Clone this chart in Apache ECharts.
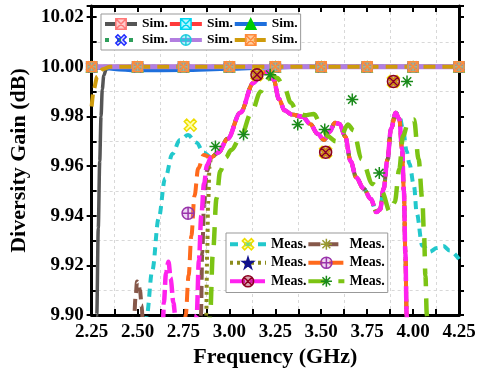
<!DOCTYPE html>
<html>
<head>
<meta charset="utf-8">
<script src="https://cdn.jsdelivr.net/npm/echarts@6/dist/echarts.min.js"></script>
<style>
  html, body { margin: 0; padding: 0; background: #fff; }
  #chart { width: 480px; height: 373px; }
</style>
</head>
<body>
<div id="chart"></div>
<script>
// ---- data ----
const simMarkX = [2.25, 2.5, 2.75, 3.0, 3.25, 3.5, 3.75, 4.0, 4.25];
const simMarkY = [10.0, 10.0, 10.0, 10.0, 10.0, 10.0, 10.0, 10.0, 10.0];

const simGray = [[2.27, 9.87], [2.278, 9.90], [2.286, 9.935], [2.294, 9.962], [2.301, 9.98], [2.308, 9.991],
  [2.316, 9.9965], [2.33, 9.9992], [2.36, 10.0], [4.25, 10.0]];
const simFlat = [[2.25, 10.0], [4.25, 10.0]];
const simBlue = [[2.25, 10.0], [2.32, 9.9995], [2.4, 9.9989], [2.5, 9.9986], [2.75, 9.9987], [3.0, 9.9992],
  [3.2, 9.9997], [3.4, 10.0], [4.25, 10.0]];
const simGold = [[2.25, 9.984], [2.262, 9.991], [2.28, 9.996], [2.31, 9.999], [2.35, 10.0], [4.25, 10.0]];

// measured curves: shared middle part + individual heads/tails
const mainCurve = [[2.9, 9.9635], [2.94, 9.9655], [2.99, 9.971], [3.06, 9.9816], [3.13, 9.9935], [3.18, 9.9977],
  [3.21, 9.998], [3.24, 9.995], [3.27, 9.987], [3.3, 9.9825], [3.34, 9.9808], [3.4, 9.9798], [3.44, 9.977],
  [3.48, 9.973], [3.515, 9.9705], [3.545, 9.9738], [3.575, 9.9775], [3.6, 9.977], [3.63, 9.972], [3.66, 9.962],
  [3.69, 9.9555], [3.73, 9.951], [3.77, 9.9468], [3.8, 9.9415], [3.82, 9.9425], [3.84, 9.951], [3.86, 9.9625],
  [3.88, 9.975], [3.905, 9.9815]];
const mainDrop = [[3.925, 9.979], [3.94, 9.967], [3.95, 9.95], [3.958, 9.925], [3.965, 9.90], [3.97, 9.88]];

const cyanHead = [[2.54, 9.885], [2.55, 9.90], [2.58, 9.918], [2.615, 9.939], [2.65, 9.955], [2.69, 9.965],
  [2.73, 9.9705], [2.775, 9.9725], [2.82, 9.9695], [2.86, 9.9655]];
const cyanTail = [[3.925, 9.9805], [3.945, 9.975], [3.965, 9.966], [3.98, 9.961], [4.005, 9.952], [4.02, 9.941],
  [4.05, 9.928], [4.09, 9.9255], [4.13, 9.927], [4.165, 9.9278], [4.2, 9.926], [4.25, 9.9225]];
const brownHead = [[2.47, 9.88], [2.48, 9.898], [2.49, 9.908], [2.497, 9.9135], [2.505, 9.913], [2.513, 9.91],
  [2.522, 9.904], [2.53, 9.895], [2.54, 9.88], [2.83, 9.88], [2.845, 9.90], [2.852, 9.925], [2.862, 9.945],
  [2.877, 9.958]];
const oliveHead = [[2.868, 9.88], [2.874, 9.90], [2.879, 9.925], [2.884, 9.945], [2.892, 9.96]];
const orangeHead = [[2.75, 9.88], [2.762, 9.90], [2.778, 9.916], [2.793, 9.932], [2.81, 9.948], [2.83, 9.959],
  [2.86, 9.9645]];
const magentaHead = [[2.635, 9.88], [2.643, 9.905], [2.655, 9.917], [2.668, 9.9215], [2.68, 9.915], [2.695, 9.905],
  [2.705, 9.90], [2.712, 9.88], [2.81, 9.88], [2.822, 9.90], [2.834, 9.922], [2.847, 9.94], [2.862, 9.953],
  [2.878, 9.9605]];
const greenCurve = [[2.885, 9.88], [2.895, 9.90], [2.91, 9.925], [2.93, 9.947], [2.95, 9.958], [2.98, 9.9635],
  [3.01, 9.9665], [3.06, 9.9715], [3.12, 9.9815], [3.17, 9.99], [3.2, 9.9945], [3.23, 9.9968], [3.26, 9.9955],
  [3.3, 9.9915], [3.335, 9.9855], [3.37, 9.9815], [3.41, 9.9805], [3.46, 9.981], [3.5, 9.9765], [3.535, 9.972],
  [3.58, 9.970], [3.61, 9.9725], [3.645, 9.9768], [3.675, 9.9745], [3.72, 9.9628], [3.78, 9.9528],
  [3.83, 9.9496], [3.875, 9.9415], [3.9, 9.9455], [3.925, 9.9588], [3.945, 9.9721], [3.975, 9.978],
  [4.005, 9.9788], [4.03, 9.9628], [4.05, 9.9468], [4.06, 9.932], [4.067, 9.916], [4.075, 9.90], [4.08, 9.88]];

// markers that sit off the measured lines
const cyanMarks = [[2.787, 9.9765], [3.15, 9.9968], [3.524, 9.9656], [3.893, 9.9941]];
const orangeMarks = [[2.775, 9.941]];
const magentaMarks = [[3.15, 9.9968], [3.524, 9.9656], [3.893, 9.9941]];
const greenMarks = [[2.924, 9.9679], [3.077, 9.9727], [3.222, 9.9968], [3.372, 9.9768], [3.519, 9.9748],
  [3.669, 9.9868], [3.816, 9.9572], [3.967, 9.9941]];

const FONT = 'Liberation Serif';

// marker shapes
const SYM = {
  sqX: 'path://M0,0H10V10H0Z M0,0L10,10 M10,0L0,10',
  xStar: 'path://M0,2L2,0L5,3L8,0L10,2L7,5L10,8L8,10L5,7L2,10L0,8L3,5Z',
  cPlus: 'path://M10,5A5,5,0,1,1,0,5A5,5,0,1,1,10,5Z M5,0V10 M0,5H10',
  cX: 'path://M10,5A5,5,0,1,1,0,5A5,5,0,1,1,10,5Z M1.5,1.5L8.5,8.5 M8.5,1.5L1.5,8.5',
  ast: 'path://M5,0V10 M0,5H10 M1.5,1.5L8.5,8.5 M8.5,1.5L1.5,8.5',
  star: 'path://M5,0L6.2,3.6L10,3.6L6.9,5.8L8.1,9.5L5,7.2L1.9,9.5L3.1,5.8L0,3.6L3.8,3.6Z'
}

const simMarks = simMarkX.map((x, i) => [x, simMarkY[i]])

const sims = [
  { name: 'sim1', data: simGray, color: '#555555', type: 'solid', width: 3.5, symbol: SYM.sqX, fill: '#ffcccc', stroke: '#ff7777' },
  { name: 'sim2', data: simFlat, color: '#ff3b3b', type: 'solid', width: 4, symbol: SYM.sqX, fill: '#b8f6ff', stroke: '#00d4ee' },
  { name: 'sim3', data: simBlue, color: '#1e6fdc', type: 'solid', width: 4, symbol: 'triangle', fill: '#00cc00', stroke: '#00cc00' },
  { name: 'sim4', data: simFlat, color: '#2e9e5b', type: [4, 8], width: 4, symbol: SYM.xStar, fill: 'rgba(40,40,255,0.15)', stroke: '#1f2cff' },
  { name: 'sim5', data: simFlat, color: '#b27ee0', type: 'solid', width: 5, symbol: SYM.cPlus, fill: 'rgba(0,220,240,0.3)', stroke: '#22ccdd' },
  { name: 'sim6', data: simGold, color: '#cf9b0c', type: [12, 7], width: 4, symbol: SYM.sqX, fill: 'rgba(255,170,90,0.6)', stroke: '#ff8a3a' }
]

const meas = [
  { name: 'meas1', data: cyanHead.concat(mainCurve, cyanTail), color: '#22c8cc', type: [8, 6], width: 4,
    symbol: SYM.xStar, fill: 'rgba(255,255,0,0.35)', stroke: '#eedd00', marks: cyanMarks },
  { name: 'meas2', data: brownHead.concat(mainCurve, mainDrop), color: '#86584a', type: [12, 6], width: 4,
    symbol: SYM.ast, fill: 'transparent', stroke: '#999930', marks: [] },
  { name: 'meas3', data: oliveHead.concat(mainCurve, mainDrop), color: '#8c8c1c', type: [3, 4], width: 4,
    symbol: SYM.star, fill: '#10108c', stroke: '#10108c', marks: [] },
  { name: 'meas4', data: orangeHead.concat(mainCurve, mainDrop), color: '#ff6a1c', type: [14, 7], width: 4,
    symbol: SYM.cPlus, fill: 'rgba(200,120,220,0.3)', stroke: '#9933aa', marks: orangeMarks },
  { name: 'meas5', data: magentaHead.concat(mainCurve, mainDrop), color: '#ff22ee', type: [15, 5], width: 4.5,
    symbol: SYM.cX, fill: 'rgba(150,0,30,0.35)', stroke: '#8c0020', marks: magentaMarks },
  { name: 'meas6', data: greenCurve, color: '#7cc414', type: [18, 12], width: 4.5,
    symbol: SYM.ast, fill: 'transparent', stroke: '#1a8a1a', marks: greenMarks }
]

function lineSeries(s, smooth) {
  return {
    name: s.name,
    type: 'line',
    data: s.data,
    showSymbol: false,
    symbol: s.symbol,
    smooth: smooth,
    smoothMonotone: 'x',
    itemStyle: { color: s.fill, borderColor: s.stroke, borderWidth: 1.5 },
    lineStyle: { color: s.color, width: s.width, type: s.type },
    silent: true
  }
}

function markSeries(s, data, size) {
  return {
    name: s.name + '_pts',
    type: 'scatter',
    data: data,
    symbol: s.symbol,
    symbolSize: size,
    itemStyle: { color: s.fill, borderColor: s.stroke, borderWidth: 1.5, opacity: 1 },
    z: 5,
    silent: true
  }
}

const series = []
meas.forEach(s => series.push(lineSeries(s, 0.35)))
sims.forEach(s => series.push(lineSeries(s, 0.3)))
sims.forEach(s => series.push(markSeries(s, simMarks, 10)))
meas.forEach(s => { if (s.marks.length) series.push(markSeries(s, s.marks, 12)) })

const axisLine = { show: true, lineStyle: { color: '#000', width: 3 } }
const tickStyle = { color: '#000', width: 2 }
const gridLine = { show: true, lineStyle: { color: '#d8d8d8', type: [3, 3], width: 1 } }
const labelFont = { fontFamily: FONT, fontWeight: 'bold', fontSize: 19, color: '#000' }
const isMult = (v, step) => Math.abs(v / step - Math.round(v / step)) < 1e-6

const legendBase = {
  orient: 'horizontal',
  itemGap: 0,
  selectedMode: false,
  backgroundColor: '#fff',
  borderColor: '#999',
  borderWidth: 1,
  borderRadius: 0,
  lineStyle: { width: 4 },
  itemStyle: { borderWidth: 1.5 },
  formatter: name => (name.indexOf('sim') === 0 ? 'Sim.' : 'Meas.')
}

const chart = echarts.init(document.getElementById('chart'), null, { renderer: 'canvas' })
chart.setOption({
  animation: false,
  backgroundColor: '#fff',
  grid: { left: 78, right: 21, top: 6, bottom: 57 },
  legend: [
    Object.assign({}, legendBase, {
      left: 101, top: 14, width: 225,
      padding: [2, 3, 2, 2],
      itemWidth: 32, itemHeight: 13,
      data: sims.map(s => s.name),
      textStyle: { fontFamily: FONT, fontWeight: 'bold', fontSize: 13.5, color: '#000', width: 25, lineHeight: 16 }
    }),
    Object.assign({}, legendBase, {
      left: 226, top: 233, width: 200,
      padding: [2, 3, 2, 2],
      itemWidth: 36, itemHeight: 14,
      data: meas.map(s => s.name),
      textStyle: { fontFamily: FONT, fontWeight: 'bold', fontSize: 14, color: '#000', width: 35, lineHeight: 18.5 }
    })
  ],
  xAxis: [
    {
      type: 'value', min: 2.25, max: 4.25, interval: 0.25, position: 'bottom',
      axisLine: axisLine,
      axisTick: { inside: true, length: 6, lineStyle: tickStyle },
      minorTick: { show: true, splitNumber: 2, length: 6, lineStyle: tickStyle },
      splitLine: { show: false },
      minorSplitLine: gridLine,
      axisLabel: Object.assign({ margin: 7, formatter: v => v.toFixed(2) }, labelFont),
      name: 'Frequency (GHz)', nameLocation: 'middle', nameGap: 27,
      nameTextStyle: { fontFamily: FONT, fontWeight: 'bold', fontSize: 22, color: '#000' }
    },
    {
      type: 'value', min: 2.25, max: 4.25, interval: 0.25, position: 'top',
      axisLine: axisLine,
      axisTick: { inside: true, length: 6, lineStyle: tickStyle },
      minorTick: { show: true, splitNumber: 2, length: 6, lineStyle: tickStyle },
      splitLine: { show: false },
      axisLabel: { show: false }
    }
  ],
  yAxis: [
    {
      type: 'value', min: 9.90, max: 10.0245, interval: 0.02, position: 'left',
      axisLine: axisLine,
      axisTick: { inside: false, length: 5, lineStyle: tickStyle },
      minorTick: { show: false, splitNumber: 2 },
      splitLine: { show: false },
      minorSplitLine: gridLine,
      axisLabel: Object.assign({ margin: 8, formatter: v => (isMult(v - 9.9, 0.02) ? v.toFixed(2) : '') }, labelFont),
      name: 'Diversity Gain (dB)', nameLocation: 'middle', nameGap: 52,
      nameTextStyle: { fontFamily: FONT, fontWeight: 'bold', fontSize: 22, color: '#000' }
    },
    {
      type: 'value', min: 9.90, max: 10.0245, interval: 0.01, position: 'right',
      axisLine: axisLine,
      axisTick: { inside: false, length: 5, lineStyle: tickStyle },
      splitLine: { show: false },
      axisLabel: { show: false }
    },
    {
      type: 'value', min: 9.90, max: 10.0245, interval: 0.01, position: 'left',
      axisLine: { show: false },
      axisTick: { inside: true, length: 5, lineStyle: tickStyle },
      splitLine: { show: false },
      axisLabel: { show: false }
    }
  ],
  series: series
})
</script>
</body>
</html>
